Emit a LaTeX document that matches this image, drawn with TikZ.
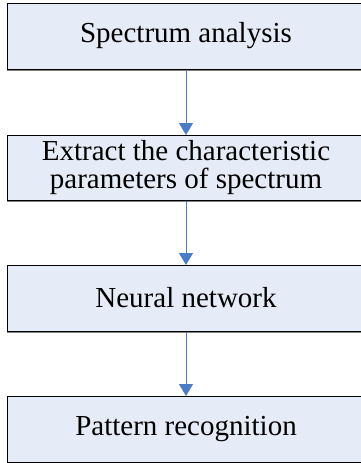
\documentclass[tikz,border=0pt]{standalone}
\usepackage{fontspec}
\setmainfont{Liberation Serif}
\usetikzlibrary{arrows.meta}
\definecolor{boxfill}{HTML}{E6ECF7}
\definecolor{arrowblue}{HTML}{4A7CC7}
\tikzset{
  stepbox/.style={draw=black, line width=0.8pt, fill=boxfill, minimum width=362pt, minimum height=66pt, inner sep=0pt, align=center, anchor=north west},
  steptext/.style={font=\fontsize{29}{28}\selectfont},
  flow/.style={draw=arrowblue, line width=1pt, -{Triangle[length=12pt,width=14pt]}}
}
\begin{document}
\begin{tikzpicture}[x=1pt,y=-1pt]
\useasboundingbox (0,0) rectangle (361,463);
\node[stepbox] (a) at (7,3) {};
\node[stepbox, minimum height=65pt] (b) at (7,135) {};
\node[stepbox] (c) at (7,265) {};
\node[stepbox] (d) at (7,396) {};
\foreach \n in {a,b,c,d}{
  \draw[gray, line width=1.6pt] ([yshift=-0.8pt]\n.south west) -- ([yshift=-0.8pt]\n.south east);
}
\node[steptext, align=center] (ta) at (186,36) {Spectrum analysis};
\node[steptext, align=center] (tb) at (186,167.5) {Extract the characteristic\\parameters of spectrum};
\node[steptext, align=center] (tc) at (186,298) {Neural network};
\node[steptext, align=center] (td) at (186,429) {Pattern recognition};
\draw[flow] (a.south -| 186,0) -- (b.north -| 186,0);
\draw[flow] (b.south -| 186,0) -- (c.north -| 186,0);
\draw[flow] (c.south -| 186,0) -- (d.north -| 186,0);
\end{tikzpicture}
\end{document}
